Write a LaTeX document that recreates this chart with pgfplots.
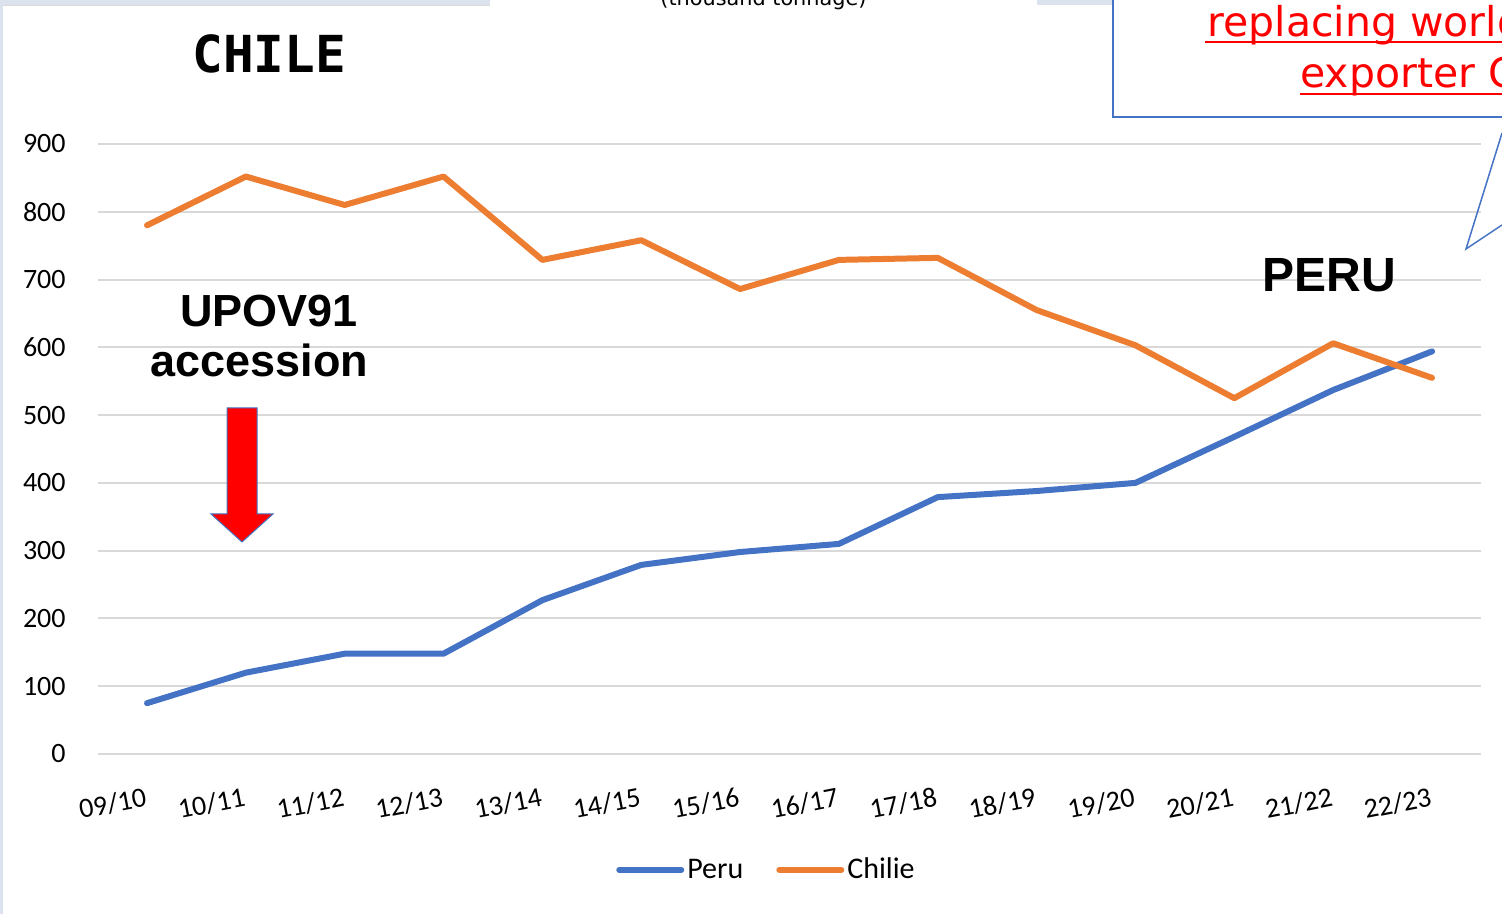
\documentclass[border=0pt]{standalone}
\usepackage{pgfplots}
\pgfplotsset{compat=1.18}
\usepackage{fontspec}
\setmainfont{Carlito}
\newfontfamily\dvs{DejaVu Sans}
\newfontfamily\dvsmono{DejaVu Sans Mono}
\newfontfamily\libsans{Liberation Sans}
\definecolor{peru}{RGB}{68,114,196}
\definecolor{chile}{RGB}{237,125,49}
\definecolor{gridc}{RGB}{217,217,217}
\definecolor{boxblue}{RGB}{68,114,196}
\definecolor{band}{RGB}{220,227,238}
\begin{document}
\begin{tikzpicture}[x=0.5pt,y=0.5pt]
\path[use as bounding box, clip] (0,0) rectangle (1502,914);
% frame bits
\fill[band] (0,909) rectangle (490,914);
\fill[band] (1037,909) rectangle (1112,914);
\fill[band] (0,0) rectangle (3,914);
\draw[gridc, line width=0.5pt] (3,908.5) -- (490,908.5);
\begin{axis}[
  at={(48.8pt,80pt)}, anchor=south west,
  scale only axis, width=691.9pt, height=305pt,
  xmin=-0.5, xmax=13.5, ymin=0, ymax=900,
  xtick={0,...,13},
  xticklabels={09/10,10/11,11/12,12/13,13/14,14/15,15/16,16/17,17/18,18/19,19/20,20/21,21/22,22/23},
  ytick={0,100,...,900},
  major tick length=0pt,
  axis line style={draw=none},
  ymajorgrids, grid style={gridc, line width=1pt},
  /pgf/number format/assume math mode=true,
  ticklabel style={font=\fontsize{14}{16}\selectfont, text=black},
  yticklabel style={anchor=east, inner sep=0pt, xshift=-15.8pt},
  xticklabel style={rotate=11, anchor=east, inner sep=0pt, xshift=-4.5pt, yshift=-21pt},
  legend style={at={(axis description cs:0.4837,-0.19)}, anchor=center, draw=none, fill=none,
    legend columns=2, font=\fontsize{15}{18}\selectfont,
    /tikz/every even column/.append style={column sep=15pt},
    inner sep=0pt, nodes={inner sep=1.5pt}},
  legend image code/.code={\draw[#1, line cap=round] (0pt,0pt) -- (31pt,0pt);},
  clip=false,
]
\addplot[peru, line width=3pt, line join=round, line cap=round] coordinates {
(0,75) (1,120) (2,148) (3,148) (4,227) (5,279) (6,298) (7,310) (8,379) (9,388) (10,400) (11,468) (12,537) (13,594)};
\addlegendentry{Peru}
\addplot[chile, line width=3pt, line join=round, line cap=round] coordinates {
(0,780) (1,852) (2,810) (3,852) (4,729) (5,758) (6,686) (7,729) (8,732) (9,655) (10,603) (11,525) (12,606) (13,555)};
\addlegendentry{Chilie}
\end{axis}
% annotations
\node[anchor=base west, inner sep=0pt, font=\dvs\fontsize{10.4}{12}\selectfont] at (660,908) {(thousand tonnage)};
\node[anchor=base west, inner sep=0pt, font=\dvsmono\bfseries\fontsize{25.5}{30}\selectfont] at (192,841) {CHILE};
\node[anchor=base west, inner sep=0pt, font=\libsans\bfseries\fontsize{22.5}{27}\selectfont] at (180,587) {UPOV91};
\node[anchor=base west, inner sep=0pt, font=\libsans\bfseries\fontsize{22.5}{27}\selectfont] at (150,537) {accession};
\node[anchor=base west, inner sep=0pt, font=\libsans\bfseries\fontsize{24}{28}\selectfont] at (1262,622) {PERU};
\fill[red, draw=boxblue, line width=0.5pt] (227,506) -- (257,506) -- (257,400) -- (273,400) -- (242,372) -- (211,400) -- (227,400) -- cycle;
% callout
\draw[boxblue, line width=0.75pt] (1113,914) -- (1113,797) -- (1502,797);
\draw[boxblue, line width=0.75pt] (1502,781) -- (1466,665) -- (1502,689);
\node[anchor=base west, inner sep=0pt, text=red, font=\dvs\fontsize{20.5}{24}\selectfont] at (1207,877) {replacing world's largest};
\node[anchor=base west, inner sep=0pt, text=red, font=\dvs\fontsize{20.5}{24}\selectfont] at (1300,826) {exporter Chile};
\draw[red, line width=1pt] (1205,872) -- (1502,872);
\draw[red, line width=1pt] (1300,820) -- (1502,820);
\end{tikzpicture}
\end{document}
